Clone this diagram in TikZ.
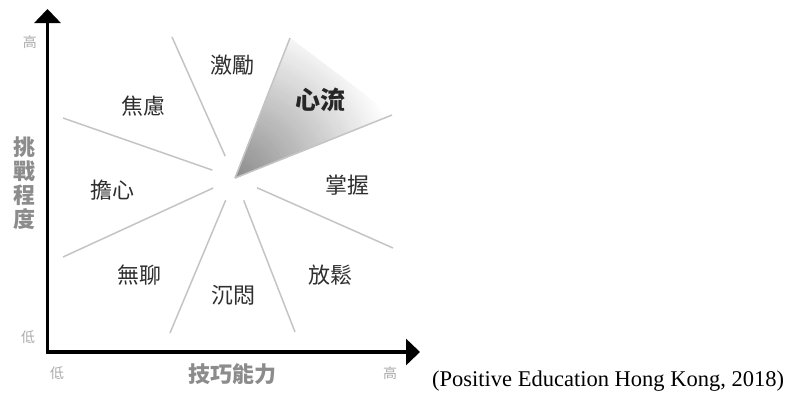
\documentclass[tikz,border=0pt]{standalone}
\usepackage{fontspec}
\setmainfont{Liberation Serif}
\newfontfamily\cjk{Noto Sans CJK TC}
\usetikzlibrary{arrows.meta,calc}
\definecolor{ctexto}{HTML}{2E2E2E}
\definecolor{ceje}{HTML}{8C8C8C}
\definecolor{cmarca}{HTML}{ABABAB}
\definecolor{crayo}{HTML}{C4C4C4}
\definecolor{cflujo}{HTML}{8A8A8A}
\tikzset{
  eje/.style={line width=3.2pt,line join=miter,
              {Triangle[length=14pt,width=26pt]}-{Triangle[length=14pt,width=26pt]}},
  rayo/.style={draw=crayo,line width=1.5pt},
  zona/.style={font=\cjk\fontsize{22}{22}\selectfont,text=ctexto,inner sep=0pt},
  zonab/.style={zona,font=\cjk\bfseries\fontsize{25}{25}\selectfont,text=black!85},
  marca/.style={font=\cjk\fontsize{14}{14}\selectfont,text=cmarca,inner sep=0pt},
  titulo/.style={font=\cjk\bfseries\fontsize{22}{24}\selectfont,text=ceje,inner sep=0pt,align=center},
  cita/.style={font=\fontsize{22.5}{26}\selectfont,inner sep=0pt},
}

\begin{document}
\begin{tikzpicture}[x=1pt,y=-1pt]
\useasboundingbox (0,0) rectangle (787,392);

% ---------------- ejes ----------------
\coordinate (o)    at (47.5,352);
\coordinate (ytip) at (47.5,9);
\coordinate (xtip) at (420,352);
\draw[eje] (ytip) -- (o) -- (xtip);

\node[marca] (yalto) at (30,42)  {高};
\node[marca] (ybajo) at (28,337) {低};
\node[marca] (xbajo) at (57,373) {低};
\node[marca] (xalto) at (390,373) {高};
\node[titulo] (reto)   at (24,183) {挑\\戰\\程\\度};
\node[titulo] (pericia) at (232,374) {技巧能力};

% ---------------- rayos ----------------
\coordinate (c)  at (235,178);
\coordinate (r1) at (63,118);
\coordinate (r2) at (172,37);
\coordinate (r3) at (290,38);
\coordinate (r4) at (392,115);
\coordinate (r5) at (393,248);
\coordinate (r6) at (295,332);
\coordinate (r7) at (170,333);
\coordinate (r8) at (63,257);

% zona de flujo: degradado hecho con circulos
\begin{scope}
  \clip (c) -- (r3) -- (r4) -- cycle;
  \foreach \r in {180,177,...,3}{
    \pgfmathtruncatemacro\p{max(0,100*(1-\r/165))}
    \fill[cflujo!\p!white] (c) circle (\r);
  }
\end{scope}
\draw[rayo] (c) -- (r3);
\draw[rayo] (c) -- (r4);

\foreach \e in {r1,r2,r5,r6,r7,r8}
  \draw[rayo] ($(c)!24pt!(\e)$) -- (\e);

% ---------------- estados ----------------
\node[zona]  (excitacion) at (232,65)  {激勵};
\node[zonab] (flujo)      at (320,100) {心流};
\node[zona]  (ansiedad)   at (143,106) {焦慮};
\node[zona]  (inquietud)  at (112,190) {擔心};
\node[zona]  (control)    at (347,185) {掌握};
\node[zona]  (aburrido)   at (139,275) {無聊};
\node[zona]  (apatia)     at (233,295) {沉悶};
\node[zona]  (relajado)   at (330,275) {放鬆};

\node[cita,anchor=base west] (fuente) at (432,386) {(Positive Education Hong Kong, 2018)};

\end{tikzpicture}
\end{document}
